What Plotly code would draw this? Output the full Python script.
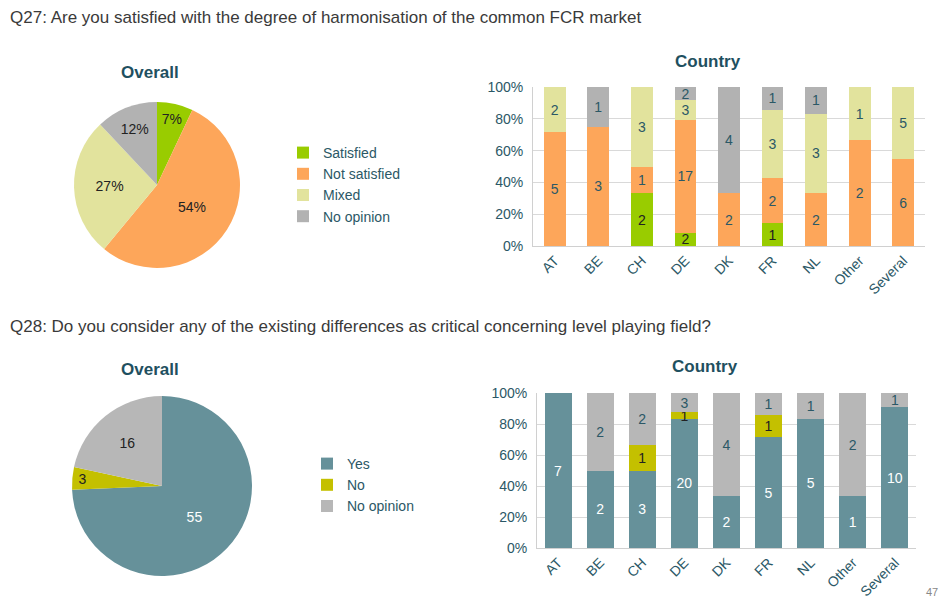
import plotly.graph_objects as go

W, H = 942, 602

# ---------- data ----------
countries = ["AT", "BE", "CH", "DE", "DK", "FR", "NL", "Other", "Several"]

q27_labels = ["Satisfied", "Not satisfied", "Mixed", "No opinion"]
q27_overall_pct = [7, 54, 27, 12]
q27_satisfied = [0, 0, 2, 2, 0, 1, 0, 0, 0]
q27_not_satisfied = [5, 3, 1, 17, 2, 2, 2, 2, 6]
q27_mixed = [2, 0, 3, 3, 0, 3, 3, 1, 5]
q27_no_opinion = [0, 1, 0, 2, 4, 1, 1, 0, 0]

q28_labels = ["Yes", "No", "No opinion\u00a0"]
q28_overall = [55, 3, 16]
q28_yes = [7, 2, 3, 20, 2, 5, 5, 1, 10]
q28_no = [0, 0, 1, 1, 0, 1, 0, 0, 0]
q28_no_opinion = [0, 2, 2, 3, 4, 1, 1, 2, 1]

pct_ticks = [0, 20, 40, 60, 80, 100]
pct_tick_text = ["0%", "20%", "40%", "60%", "80%", "100%"]

# ---------- style ----------
FONT = "Liberation Sans, Arial, sans-serif"
TEAL_TXT = "#2B5866"
DARK = "#222222"
C_SAT, C_NOT, C_MIX, C_NOP = "#99CC00", "#FDA65A", "#E2E39D", "#B2B2B2"
C_YES, C_NO, C_NOP2 = "#66919A", "#C4C000", "#B7B7B7"


def px_x(x):
    return x / W


def px_y(y):
    return 1 - y / H


def lbl(vals):
    return [str(v) if v else "" for v in vals]


fig = go.Figure()

# ---------- pies ----------
fig.add_trace(go.Pie(
    labels=q27_labels, values=q27_overall_pct, sort=False, direction="clockwise",
    rotation=0, marker=dict(colors=[C_SAT, C_NOT, C_MIX, C_NOP], line=dict(width=0)),
    texttemplate="%{value}%", textposition="inside", insidetextorientation="horizontal",
    textfont=dict(color=DARK, size=14, family=FONT),
    domain=dict(x=[px_x(74), px_x(240)], y=[px_y(268), px_y(102)]),
    legend="legend", hoverinfo="label+value",
))
fig.add_trace(go.Pie(
    labels=q28_labels, values=q28_overall, sort=False, direction="clockwise",
    rotation=0, marker=dict(colors=[C_YES, C_NO, C_NOP2], line=dict(width=0)),
    texttemplate="%{value}", textposition="inside", insidetextorientation="horizontal",
    textfont=dict(color=["white", DARK, DARK], size=14, family=FONT),
    domain=dict(x=[px_x(72), px_x(252)], y=[px_y(576), px_y(396)]),
    legend="legend2", hoverinfo="label+value",
))

# ---------- bars Q27 ----------
for name, vals, col, tcol in [
    ("Satisfied", q27_satisfied, C_SAT, DARK),
    ("Not satisfied", q27_not_satisfied, C_NOT, TEAL_TXT),
    ("Mixed", q27_mixed, C_MIX, TEAL_TXT),
    ("No opinion", q27_no_opinion, C_NOP, TEAL_TXT),
]:
    fig.add_trace(go.Bar(
        x=countries, y=vals, name=name, marker=dict(color=col, line=dict(width=0)),
        text=lbl(vals), textposition="inside", insidetextanchor="middle",
        textfont=dict(color=tcol, size=14, family=FONT), textangle=0, width=0.5,
        xaxis="x", yaxis="y", showlegend=False,
    ))

# ---------- bars Q28 ----------
for name, vals, col, tcol in [
    ("Yes", q28_yes, C_YES, "white"),
    ("No", q28_no, C_NO, DARK),
    ("No opinion", q28_no_opinion, C_NOP2, TEAL_TXT),
]:
    fig.add_trace(go.Bar(
        x=countries, y=vals, name=name, marker=dict(color=col, line=dict(width=0)),
        text=lbl(vals), textposition="inside", insidetextanchor="middle",
        textfont=dict(color=tcol, size=14, family=FONT), textangle=0, width=0.64,
        xaxis="x2", yaxis="y2", showlegend=False,
    ))

axis_common = dict(
    tickfont=dict(color=TEAL_TXT, size=14, family=FONT),
    automargin=False,
)

fig.update_layout(
    width=W, height=H, margin=dict(l=0, r=0, t=0, b=0, autoexpand=False),
    paper_bgcolor="white", plot_bgcolor="white",
    font=dict(family=FONT, color=TEAL_TXT),
    barmode="stack", barnorm="percent",
    uniformtext=dict(minsize=14, mode="show"),
    xaxis=dict(domain=[px_x(533), px_x(925)], anchor="y", showgrid=False,
               showline=True, linecolor="#D0D0D0", linewidth=1, ticks="",
               tickangle=-45, **axis_common),
    yaxis=dict(domain=[px_y(246), px_y(87)], anchor="x", range=[0, 100],
               tickvals=pct_ticks, ticktext=pct_tick_text, showgrid=True, gridcolor="#D9D9D9",
               showline=True, linecolor="#D0D0D0", zeroline=False, ticks="",
               ticklabelstandoff=6, **axis_common),
    xaxis2=dict(domain=[px_x(537), px_x(916)], anchor="y2", showgrid=False,
                showline=True, linecolor="#D0D0D0", linewidth=1, ticks="",
                tickangle=-45, **axis_common),
    yaxis2=dict(domain=[px_y(548), px_y(393)], anchor="x2", range=[0, 100],
                tickvals=pct_ticks, ticktext=pct_tick_text, showgrid=True, gridcolor="#D9D9D9",
                showline=True, linecolor="#D0D0D0", zeroline=False, ticks="",
                ticklabelstandoff=6, **axis_common),
    legend=dict(x=px_x(283), y=px_y(137), xanchor="left", yanchor="top",
                font=dict(size=14, color=TEAL_TXT, family=FONT), bgcolor="rgba(0,0,0,0)",
                itemwidth=30, traceorder="normal"),
    legend2=dict(x=px_x(307), y=px_y(448), xanchor="left", yanchor="top",
                 font=dict(size=14, color=TEAL_TXT, family=FONT), bgcolor="rgba(0,0,0,0)",
                 itemwidth=30, traceorder="normal"),
)

annos = [
    ("Q27: Are you satisfied with the degree of harmonisation of the common FCR market", 8, 17, "left", 17, "#3A3A3A", False),
    ("Overall", 150, 73, "center", 17, "#1F5060", True),
    ("Country", 708, 61, "center", 17, "#1F5060", True),
    ("Q28: Do you consider any of the existing differences as critical concerning level playing field?", 8, 326, "left", 17, "#3A3A3A", False),
    ("Overall", 150, 369, "center", 17, "#1F5060", True),
    ("Country", 705, 366, "center", 17, "#1F5060", True),
    ("47", 932, 592, "center", 11, "#888888", False),
]
for text, x, y, anchor, size, color, bold in annos:
    fig.add_annotation(
        text=f"<b>{text}</b>" if bold else text, x=px_x(x), y=px_y(y),
        xref="paper", yref="paper", xanchor=anchor, yanchor="middle",
        showarrow=False, font=dict(size=size, color=color, family=FONT),
    )

fig.write_html(
    "out.html",
    config={"displayModeBar": False},
    post_script="document.body.style.margin='0';document.documentElement.style.overflow='hidden';",
)
